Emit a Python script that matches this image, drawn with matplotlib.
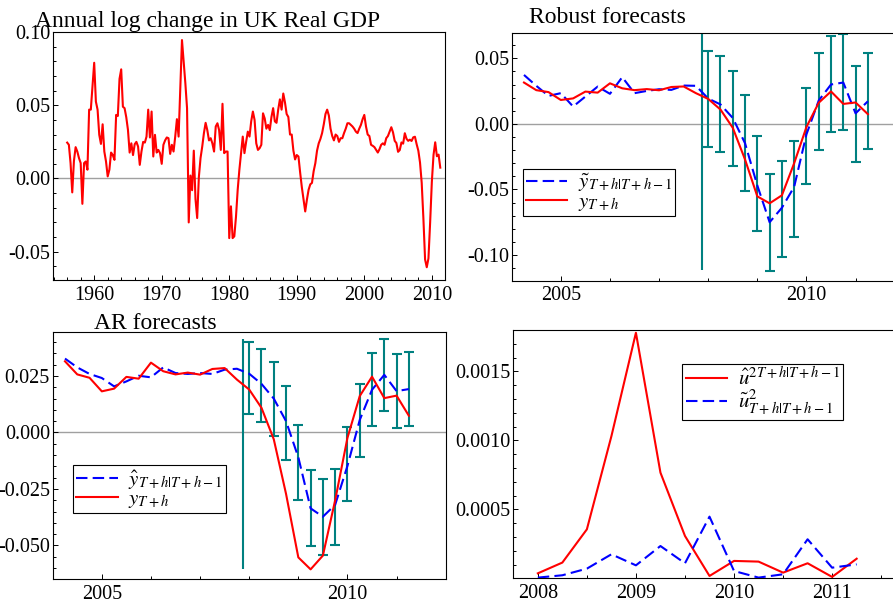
import numpy as np
import matplotlib
matplotlib.use("Agg")
import matplotlib.pyplot as plt
from matplotlib.ticker import FixedLocator, MultipleLocator, FormatStrFormatter

plt.rcParams['font.family'] = ['Liberation Serif', 'DejaVu Serif']
plt.rcParams['mathtext.fontset'] = 'stix'
plt.rcParams['axes.unicode_minus'] = False

# ---------------- data ----------------
# Annual log change in UK real GDP, quarterly from 1956(1)
gdp_start = 1956.0
gdp = [
    0.0245, 0.023, 0.0105, -0.0095, 0.012, 0.0214, 0.0184, 0.0139,
    0.0105, -0.0173, 0.0105, 0.0116, 0.006, 0.047, 0.047, 0.063,
    0.079, 0.0525, 0.047, 0.0298, 0.0236, 0.037, 0.0184, 0.0116,
    0.0014, 0.006, 0.0177, 0.016, 0.0127, 0.0434, 0.0427, 0.068,
    0.0745, 0.049, 0.048, 0.0418, 0.0332, 0.0177, 0.024, 0.016,
    0.0234, 0.025, 0.0218, 0.0093, 0.0184, 0.025, 0.0245, 0.0286,
    0.047, 0.028, 0.0457, 0.015, 0.0298, 0.0177, 0.0195, 0.0173,
    0.010, 0.023, 0.026, 0.028, 0.0275, 0.0168, 0.023, 0.0184,
    0.0286, 0.0405, 0.0286, 0.0605, 0.0945, 0.080, 0.065, 0.048,
    -0.030, 0.002, -0.008, 0.019, -0.014, -0.027, 0.001, 0.014,
    0.0218, 0.031, 0.038, 0.033, 0.026, 0.0275, 0.024, 0.0184,
    0.0355, 0.0377, 0.033, 0.0195, 0.051, 0.0173, 0.0184, 0.0184,
    -0.0407, -0.019, -0.0407, -0.0395, -0.026, -0.0077, 0.006, 0.0173,
    0.0286, 0.0173, 0.025, 0.032, 0.0286, 0.039, 0.0457, 0.040,
    0.024, 0.0195, 0.0207, 0.023, 0.0445, 0.041, 0.034, 0.0366,
    0.033, 0.042, 0.048, 0.039, 0.038, 0.047, 0.054, 0.047,
    0.058, 0.052, 0.044, 0.042, 0.030, 0.030, 0.019, 0.013,
    0.016, 0.015, 0.004, -0.006, -0.014, -0.0225, -0.0145, -0.0077,
    -0.004, -0.003, 0.005, 0.0105, 0.019, 0.024, 0.027, 0.031,
    0.037, 0.044, 0.047, 0.043, 0.034, 0.029, 0.026, 0.030,
    0.029, 0.025, 0.0275, 0.0275, 0.031, 0.034, 0.0377, 0.0377,
    0.0366, 0.0355, 0.034, 0.032, 0.031, 0.034, 0.0366, 0.0405,
    0.0434, 0.0355, 0.030, 0.029, 0.023, 0.0223, 0.0214, 0.0195,
    0.0177, 0.020, 0.023, 0.024, 0.023, 0.0275, 0.029, 0.032,
    0.035, 0.0315, 0.0257, 0.0242, 0.0182, 0.0194, 0.0246, 0.0238,
    0.0309, 0.0271, 0.0257, 0.0265, 0.0256, 0.0281, 0.0285, 0.0234,
    0.019, 0.0109, -0.003, -0.0272, -0.0553, -0.0606, -0.0545, -0.030,
    -0.0024, 0.0161, 0.0247, 0.0152, 0.0163, 0.0074,
]
gdp_years = gdp_start + np.arange(len(gdp)) / 4.0

# forecast window (actuals come from gdp)
fc_start = 2004.25
robust_fc = [0.0373, 0.029, 0.0213, 0.0234, 0.0132, 0.0208, 0.0284, 0.0229,
             0.0356, 0.0234, 0.0251, 0.0264, 0.0259, 0.0292, 0.029,
             0.0193, 0.0148, 0.0045, -0.0148, -0.047, -0.075, -0.064, -0.048,
             -0.008, 0.0178, 0.030, 0.0315, 0.008, 0.0172]
ar_fc = [0.0327, 0.0288, 0.0259, 0.0241, 0.0204, 0.0226, 0.0251, 0.0244,
         0.0288, 0.0263, 0.0259, 0.0263, 0.0259, 0.0278, 0.0282,
         0.026, 0.0215, 0.015, 0.005, -0.011, -0.0336, -0.0373, -0.032,
         -0.0148, 0.0055, 0.0189, 0.0255, 0.0183, 0.0192]

# error bands, quarterly from 2008(1)
band_start = 2008.0
robust_hi = [0.0558, 0.0515, 0.0406, 0.0218, -0.0089, -0.0386, -0.0282,
             -0.0132, 0.0272, 0.0538, 0.0670, 0.0685, 0.0444, 0.0541]
robust_lo = [-0.0173, -0.0218, -0.0325, -0.0515, -0.0817, -0.1119, -0.1013,
             -0.0865, -0.0459, -0.0198, -0.0063, -0.0048, -0.0289, -0.0195]
ar_hi = [0.0401, 0.0370, 0.0311, 0.0204, 0.0033, -0.0166, -0.0206,
         -0.0161, 0.0025, 0.0214, 0.0352, 0.0414, 0.0348, 0.0355]
ar_lo = [0.0081, 0.0046, -0.0015, -0.0121, -0.0299, -0.0503, -0.0543,
         -0.0498, -0.0305, -0.0109, 0.0027, 0.0093, 0.0021, 0.0030]
# leading uncapped band
lead_year = 2007.875
robust_lead = [-0.1117, 0.0683]
ar_lead = [-0.0606, 0.0414]

# squared forecast errors, quarterly from 2008(1)
sq_start = 2008.0
u_hat_sq = [0.000036, 0.000114, 0.000355, 0.00103, 0.00178, 0.000766,
            0.000307, 0.000017, 0.000126, 0.000121, 0.000041, 0.000109,
            0.00001, 0.000142]
u_tilde_sq = [0.000005, 0.000022, 0.00007, 0.000174, 0.000094, 0.000234,
              0.000109, 0.000447, 0.000053, 0.000005, 0.000029, 0.000283,
              0.000077, 0.000101]

titles = ["Annual log change in UK Real GDP", "Robust forecasts", "AR forecasts"]
tl_xticks = [1960, 1970, 1980, 1990, 2000, 2010]
tl_yticks = [-0.05, 0.00, 0.05, 0.10]
tr_xticks = [2005, 2010]
tr_yticks = [-0.10, -0.05, 0.00, 0.05]
bl_xticks = [2005, 2010]
bl_yticks = [-0.050, -0.025, 0.000, 0.025]
br_xticks = [2008, 2009, 2010, 2011]
br_yticks = [0.0005, 0.0010, 0.0015]

# ---------------- styling ----------------
RED = '#ff0000'
BLUE = '#0000ff'
TEAL = '#008080'
GREY = '#a0a0a0'
LW = 1.5
DASH = (5.5, 2.5)
TICKFS = 14.5
TITLEFS = 17
LEGFS = 15

W, H = 893, 603
fig = plt.figure(figsize=(W / 100, H / 100), dpi=100)


def px_axes(left, top, width, height):
    return fig.add_axes([left / W, 1 - (top + height) / H, width / W, height / H])


def style(ax, xmajor, xminor, ymajor, yminor, yfmt):
    ax.xaxis.set_major_locator(FixedLocator(xmajor))
    ax.xaxis.set_minor_locator(MultipleLocator(xminor))
    ax.yaxis.set_major_locator(FixedLocator(ymajor))
    ax.yaxis.set_minor_locator(MultipleLocator(yminor))
    ax.yaxis.set_major_formatter(FormatStrFormatter(yfmt))
    ax.xaxis.set_major_formatter(FormatStrFormatter('%d'))
    ax.tick_params(which='both', direction='in', top=False, right=False,
                   labelsize=TICKFS, width=0.7, color='black')
    ax.tick_params(which='major', length=3.5)
    ax.tick_params(which='minor', length=2.5)
    ax.tick_params(axis='y', pad=2)
    ax.tick_params(axis='x', pad=4)
    for s in ax.spines.values():
        s.set_linewidth(0.8)
        s.set_color('black')


def legend(ax, handles, loc, anchor):
    lg = ax.legend(handles=handles, loc=loc, bbox_to_anchor=anchor,
                   fontsize=LEGFS, frameon=True, fancybox=False, framealpha=1,
                   edgecolor='black', borderaxespad=0, handlelength=2.0,
                   handletextpad=0.5, labelspacing=-0.1, borderpad=0.15)
    lg.get_frame().set_linewidth(0.8)
    return lg


# ---- top left: GDP ----
ax1 = px_axes(53, 32, 392, 248)
ax1.axhline(0, color=GREY, lw=1.0, zorder=1)
ax1.plot(gdp_years, gdp, color=RED, lw=LW, zorder=3)
ax1.set_xlim(1953.9, 2011.95)
ax1.set_ylim(-0.0693, 0.10)
style(ax1, tl_xticks, 2, tl_yticks, 0.01, '%.2f')
ax1.text(-0.046, 1.021, titles[0], transform=ax1.transAxes, fontsize=TITLEFS,
         ha='left', va='baseline')

gdp_arr = np.asarray(gdp)
fc_mask = gdp_years >= fc_start - 1e-9
fc_years = gdp_years[fc_mask]
actual = gdp_arr[fc_mask]
band_years = band_start + np.arange(len(robust_hi)) / 4.0


def forecast_panel(ax, fc, hi, lo, lead, label, title, tx, ty, xt, yt,
                   yminor, ylim, yfmt, leg_anchor):
    ax.axhline(0, color=GREY, lw=1.0, zorder=1)
    hi = np.asarray(hi)
    lo = np.asarray(lo)
    mid = (hi + lo) / 2
    ax.errorbar(band_years, mid, yerr=[mid - lo, hi - mid], fmt='none',
                ecolor=TEAL, elinewidth=LW, capsize=3.6, capthick=LW, zorder=2)
    ax.vlines([lead_year], [lead[0]], [lead[1]], color=TEAL, lw=LW, zorder=2)
    h1, = ax.plot(fc_years, fc, color=BLUE, lw=LW, dashes=DASH, label=label,
                  zorder=3)
    h2, = ax.plot(fc_years, actual, color=RED, lw=LW, label=r'$y_{T+h}$',
                  zorder=4)
    ax.set_xlim(2004.0, 2012.0)
    ax.set_ylim(*ylim)
    style(ax, xt, 1, yt, yminor, yfmt)
    ax.text(tx, ty, title, transform=ax.transAxes, fontsize=TITLEFS,
            ha='left', va='baseline')
    legend(ax, [h1, h2], 'lower left', leg_anchor)


# ---- top right: robust ----
ax2 = px_axes(511.7, 32.7, 393, 248)
forecast_panel(ax2, robust_fc, robust_hi, robust_lo, robust_lead,
               r'$\tilde{y}_{T+h|T+h-1}$', titles[1], 0.044, 1.038,
               tr_xticks, tr_yticks, 0.01, (-0.1196, 0.0695), '%.2f',
               (0.028, 0.261))

# ---- bottom left: AR ----
ax3 = px_axes(52.7, 331.7, 393, 247.6)
forecast_panel(ax3, ar_fc, ar_hi, ar_lo, ar_lead,
               r'$\hat{y}_{T+h|T+h-1}$', titles[2], 0.105, 1.010,
               bl_xticks, bl_yticks, 0.005, (-0.065, 0.0446), '%.3f',
               (0.052, 0.267))

# ---- bottom right: squared errors ----
ax4 = px_axes(513.3, 330, 392.4, 248.3)
sq_years = sq_start + np.arange(len(u_hat_sq)) / 4.0
g1, = ax4.plot(sq_years, u_hat_sq, color=RED, lw=LW,
               label=r'$\hat{u}^{2T+h|T+h-1}$', zorder=3)
g2, = ax4.plot(sq_years, u_tilde_sq, color=BLUE, lw=LW, dashes=DASH,
               label=r'$\tilde{u}^{2}_{T+h|T+h-1}$', zorder=3)
ax4.set_xlim(2007.75, 2011.75)
ax4.set_ylim(0, 0.0018)
style(ax4, br_xticks, 0.5, br_yticks, 0.0001, '%.4f')
legend(ax4, [g1, g2], 'upper left', (0.431, 0.862))

fig.savefig('out.png', dpi=100, facecolor='white')
